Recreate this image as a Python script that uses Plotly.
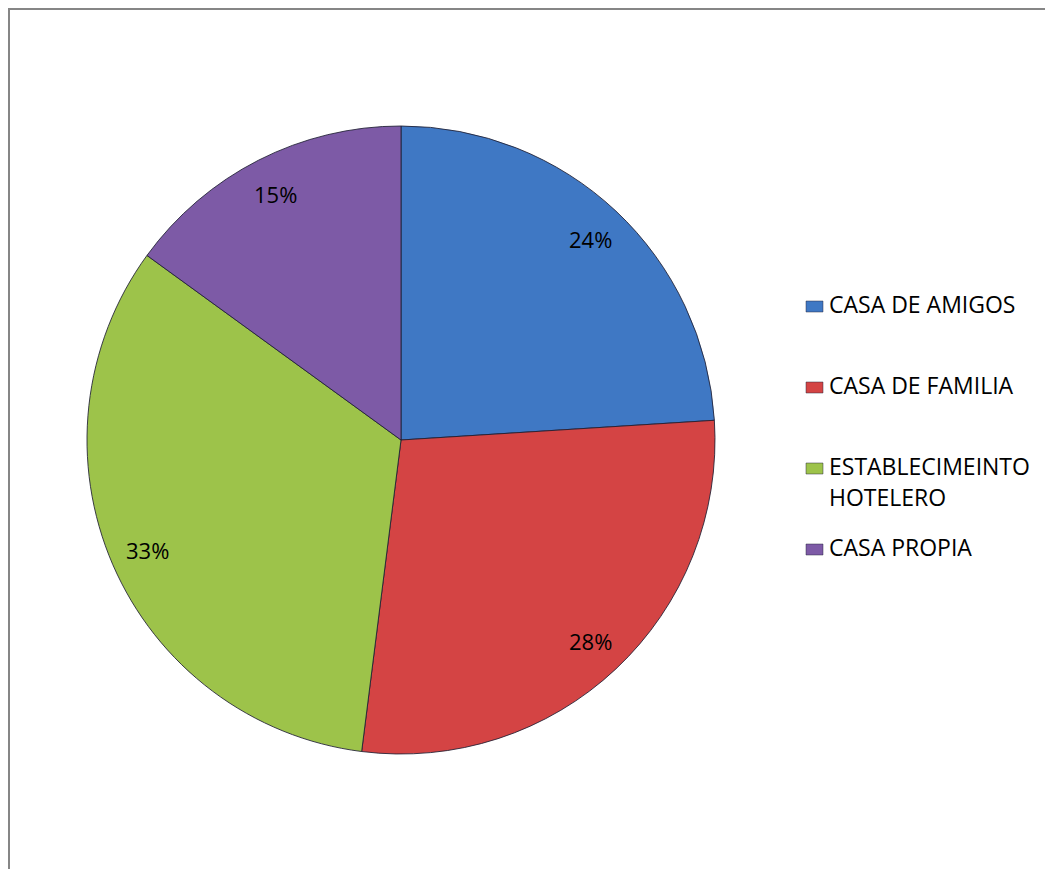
import math
import plotly.graph_objects as go

categories = ["CASA DE AMIGOS", "CASA DE FAMILIA", "ESTABLECIMEINTO<br>HOTELERO", "CASA PROPIA"]
values = [24, 28, 33, 15]
colors = ["#3F78C4", "#D44444", "#9DC34A", "#7D5AA6"]

W, H = 1053, 869
OFF = 8  # page body margin
cx, cy, R = 401 - OFF, 440 - OFF, 314

fig = go.Figure(go.Pie(
    labels=categories, values=values, sort=False, direction="clockwise", rotation=0,
    marker=dict(colors=colors, line=dict(color="rgba(30,30,50,0.85)", width=1)),
    textinfo="none", hoverinfo="label+percent", showlegend=False,
    domain=dict(x=[(cx - R) / W, (cx + R) / W], y=[1 - (cy + R) / H, 1 - (cy - R) / H]),
))

total = sum(values)
cum = 0
annotations = []
for v in values:
    mid = (cum + v / 2) / total * 2 * math.pi
    cum += v
    rr = 0.88 * R
    px = cx + rr * math.sin(mid)
    py = cy - rr * math.cos(mid)
    annotations.append(dict(x=px / W, y=1 - py / H, xref="paper", yref="paper",
                            xanchor="center", yanchor="middle",
                            text=f"{round(v / total * 100)}%", showarrow=False,
                            font=dict(family="Open Sans", size=22, color="#000")))

# legend drawn manually
leg_rows = [304 - OFF, 385 - OFF, 466 - OFF, 547 - OFF]
shapes = [dict(type="rect", xref="paper", yref="paper", x0=0.5 / W, x1=1.02,
               y0=-0.02, y1=1 - 0.5 / H, line=dict(color="#868686", width=3),
               fillcolor="rgba(0,0,0,0)", layer="below")]
for name, col, yy in zip(categories, colors, leg_rows):
    shapes.append(dict(type="rect", xref="paper", yref="paper",
                       x0=(806 - OFF) / W, x1=(823 - OFF) / W,
                       y0=1 - (yy + 8) / H, y1=1 - (yy - 3) / H,
                       fillcolor=col, line=dict(color="rgba(40,40,60,0.6)", width=0.8)))
    lines = name.split("<br>")
    for i, ln in enumerate(lines):
        annotations.append(dict(x=(827 - OFF) / W, y=1 - (yy + i * 31) / H, xref="paper", yref="paper",
                                xanchor="left", yanchor="middle", text=ln, showarrow=False,
                                font=dict(family="Open Sans", size=23, color="#000")))

fig.update_layout(width=W, height=H, margin=dict(l=0, r=0, t=0, b=0),
                  paper_bgcolor="white", plot_bgcolor="white",
                  annotations=annotations, shapes=shapes)
fig.write_html("out.html")
